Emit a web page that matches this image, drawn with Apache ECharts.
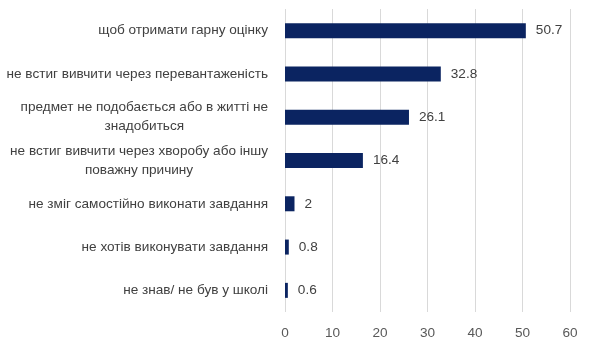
<!DOCTYPE html>
<html><head><meta charset="utf-8">
<script src="https://cdn.jsdelivr.net/npm/echarts@6/dist/echarts.min.js"></script>
<style>html,body{margin:0;padding:0;background:#fff}#c{width:590px;height:347px}</style>
</head><body><div id="c"></div>
<script>
const categories = [
  "щоб отримати гарну оцінку",
  "не встиг вивчити через перевантаженість",
  "предмет не подобається або в житті не\nзнадобиться",
  "не встиг вивчити через хворобу або іншу\nповажну причину",
  "не зміг самостійно виконати завдання",
  "не хотів виконувати завдання",
  "не знав/ не був у школі"
];
const values = [50.7, 32.8, 26.1, 16.4, 2, 0.8, 0.6];
const xTicks = [0, 10, 20, 30, 40, 50, 60];

const chart = echarts.init(document.getElementById('c'));
chart.setOption({
  animation: false,
  grid: {left: 285, right: 20, top: 9, bottom: 35, containLabel: false},
  xAxis: {
    type: 'value', min: xTicks[0], max: xTicks[xTicks.length-1], interval: 10,
    axisLine: {show: false}, axisTick: {show: false},
    splitLine: {lineStyle: {color: '#d9d9d9', width: 1}},
    axisLabel: {color: '#595959', fontSize: 13.6, fontFamily: 'Liberation Sans', margin: 14}
  },
  yAxis: {
    type: 'category', data: categories, inverse: true,
    axisLine: {show: false}, axisTick: {show: false},
    axisLabel: {
      color: '#404040', fontSize: 13.6, fontFamily: 'Liberation Sans', margin: 17,
      formatter: function (v) { return v.split('\n').map(s => '{c|' + s + '}').join('\n'); },
      rich: {c: {align: 'center', color: '#404040', fontSize: 13.6, fontFamily: 'Liberation Sans', lineHeight: 19}}
    }
  },
  series: [{
    type: 'bar', data: values, barWidth: 15,
    itemStyle: {color: '#0b2461'},
    label: {show: true, position: 'right', distance: 10, color: '#404040', fontSize: 13.6, fontFamily: 'Liberation Sans'}
  }]
});
</script></body></html>
